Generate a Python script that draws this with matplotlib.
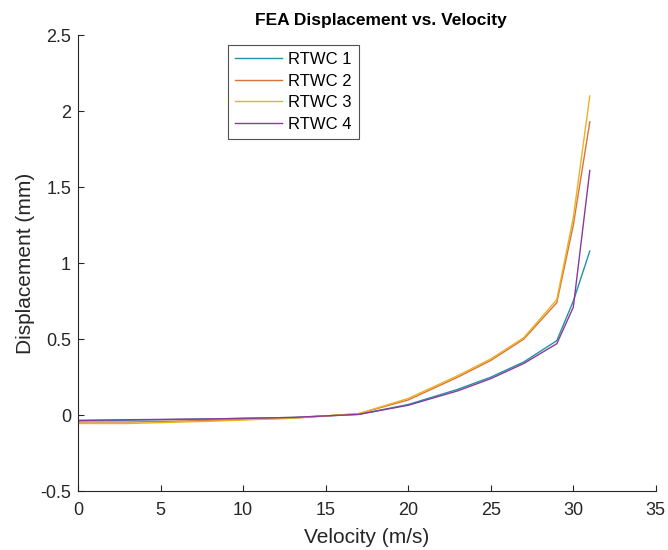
import matplotlib.pyplot as plt

plt.rcParams['font.family'] = ['Liberation Sans', 'DejaVu Sans']

velocity = [0, 3, 8, 13, 17, 20, 23, 25, 27, 29, 30, 31]
rtwc1 = [-0.035, -0.033, -0.025, -0.015, 0.005, 0.07, 0.17, 0.25, 0.35, 0.49, 0.75, 1.08]
rtwc2 = [-0.045, -0.045, -0.035, -0.02, 0.01, 0.10, 0.25, 0.36, 0.50, 0.74, 1.25, 1.93]
rtwc3 = [-0.055, -0.055, -0.04, -0.02, 0.01, 0.11, 0.26, 0.37, 0.51, 0.76, 1.30, 2.10]
rtwc4 = [-0.035, -0.03, -0.025, -0.015, 0.005, 0.065, 0.16, 0.24, 0.34, 0.47, 0.71, 1.61]

fig = plt.figure(figsize=(6.68, 5.5), dpi=100)
ax = fig.add_axes([0.1168, 0.107, 0.865, 0.829])

ax.plot(velocity, rtwc1, color='#1f94a8', lw=1, label='RTWC 1')
ax.plot(velocity, rtwc2, color='#d9733a', lw=1, label='RTWC 2')
ax.plot(velocity, rtwc3, color='#edb120', lw=1, label='RTWC 3')
ax.plot(velocity, rtwc4, color='#8a3a9a', lw=1, label='RTWC 4')

ax.set_xlim(0, 35)
ax.set_ylim(-0.5, 2.5)
ax.set_xticks(range(0, 36, 5))
ax.set_yticks([-0.5, 0, 0.5, 1, 1.5, 2, 2.5])
ax.set_yticklabels(['-0.5', '0', '0.5', '1', '1.5', '2', '2.5'])

for s in ['top', 'right']:
    ax.spines[s].set_visible(False)
for s in ['left', 'bottom']:
    ax.spines[s].set_color('#262626')
    ax.spines[s].set_linewidth(0.8)
ax.tick_params(direction='in', length=4, width=0.8, colors='#262626', labelsize=13)
ax.tick_params(axis='x', pad=8)
ax.tick_params(axis='y', pad=5)

ax.set_title('FEA Displacement vs. Velocity', fontsize=12.5, fontweight='bold', pad=7, x=0.524)
ax.set_xlabel('Velocity (m/s)', fontsize=15, color='#262626', labelpad=6)
ax.set_ylabel('Displacement (mm)', fontsize=15, color='#262626', labelpad=4)

leg = ax.legend(loc='upper left', bbox_to_anchor=(0.26, 0.978), borderaxespad=0,
                fancybox=False, edgecolor='#262626', fontsize=12,
                handlelength=2.8, handletextpad=0.4, labelspacing=0.4,
                borderpad=0.4)
leg.get_frame().set_linewidth(0.8)

fig.savefig('out.png', dpi=100)
